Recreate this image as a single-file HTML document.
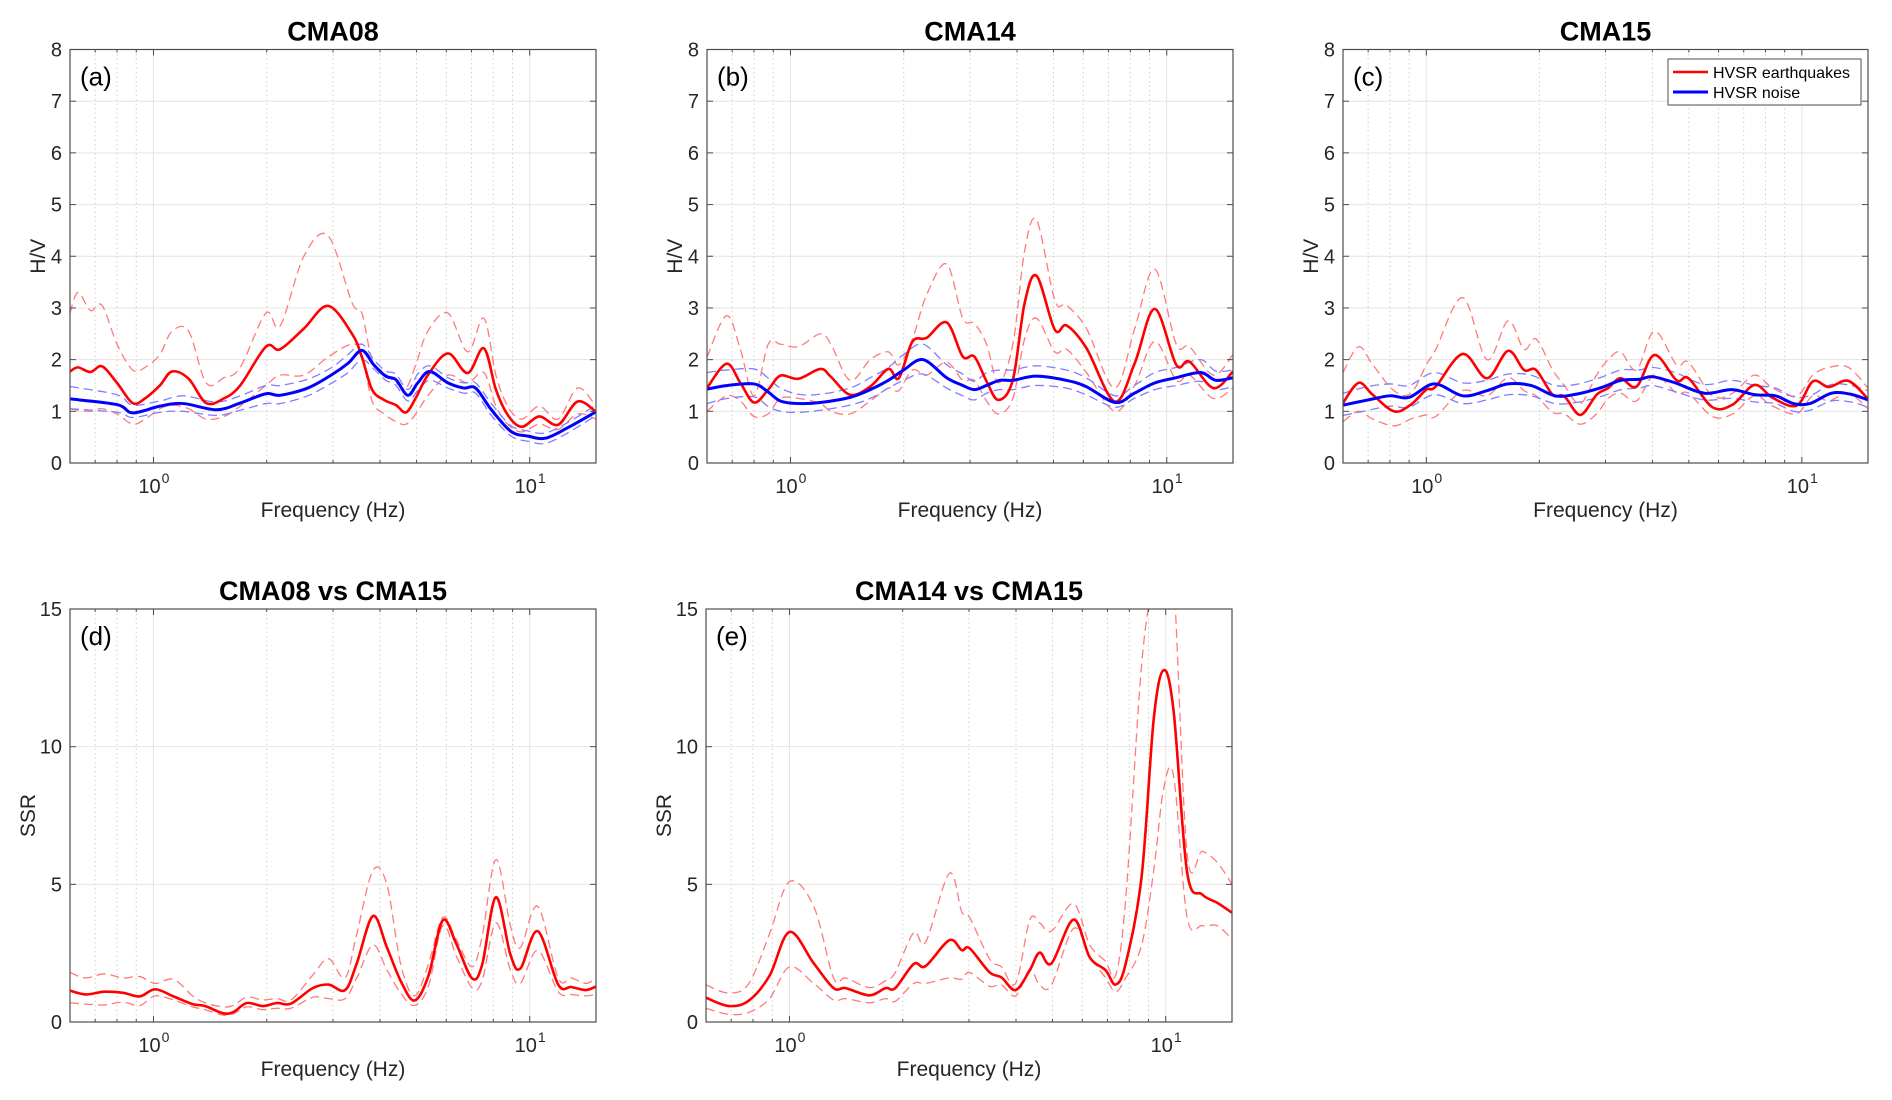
<!DOCTYPE html>
<html><head><meta charset="utf-8"><style>
html,body{margin:0;padding:0;background:#fff;}
svg{display:block;font-family:"Liberation Sans",Arial,sans-serif;}
</style></head><body>
<svg id="fig" width="1892" height="1100" viewBox="0 0 1892 1100" xmlns="http://www.w3.org/2000/svg"></svg>
<script>
// ---------- Panel (a) CMA08 ----------
const aFreqRed = [0.6,0.63,0.68,0.73,0.8,0.88,0.95,1.04,1.12,1.24,1.38,1.54,1.7,1.99,2.17,2.51,2.91,3.37,3.58,3.81,4.1,4.41,4.69,4.98,5.36,6.06,6.84,7.55,8.13,8.74,9.52,10.6,11.9,13.4,15];
const aRedMean = [1.77,1.85,1.76,1.87,1.55,1.16,1.25,1.5,1.77,1.63,1.16,1.25,1.5,2.25,2.2,2.6,3.04,2.5,2.05,1.42,1.22,1.12,0.98,1.26,1.7,2.12,1.74,2.22,1.42,0.93,0.7,0.9,0.74,1.19,0.99];
const aRedUp = [2.9,3.3,2.95,3.05,2.3,1.8,1.85,2.1,2.55,2.55,1.55,1.65,1.85,2.9,2.65,4.0,4.4,3.1,2.9,2.0,1.75,1.55,1.45,1.9,2.55,2.9,2.15,2.8,1.7,1.1,0.85,1.1,0.85,1.45,1.1];
const aRedLo = [1.05,1.02,1.0,1.05,0.95,0.75,0.85,1.05,1.12,1.05,0.85,0.9,1.1,1.5,1.7,1.7,2.05,2.3,2.1,1.2,0.95,0.8,0.75,0.95,1.3,1.7,1.55,1.75,1.1,0.75,0.6,0.75,0.65,0.95,0.85];
const aFreqBlue = [0.6,0.8,0.88,1.04,1.2,1.47,1.7,1.99,2.17,2.57,2.98,3.29,3.58,3.85,4.14,4.41,4.74,5.04,5.42,6.06,6.68,7.18,7.91,8.92,9.9,11.0,12.6,15];
const aBlueMean = [1.24,1.13,0.97,1.1,1.15,1.03,1.16,1.34,1.31,1.45,1.71,1.93,2.18,1.9,1.68,1.61,1.31,1.55,1.77,1.55,1.45,1.45,1.03,0.61,0.52,0.48,0.68,0.99];
const aBlueUp = [1.48,1.32,1.12,1.2,1.3,1.18,1.3,1.5,1.5,1.62,1.85,2.1,2.3,2.0,1.78,1.72,1.42,1.72,1.88,1.65,1.55,1.55,1.15,0.72,0.62,0.58,0.78,1.12];
const aBlueLo = [1.05,0.98,0.88,0.98,1.0,0.92,1.02,1.15,1.15,1.3,1.55,1.75,2.0,1.82,1.6,1.5,1.2,1.4,1.6,1.45,1.35,1.35,0.92,0.52,0.42,0.38,0.58,0.92];
// ---------- Panel (b) CMA14 ----------
const bFreqRed = [0.6,0.676,0.736,0.8,0.873,0.94,1.05,1.2,1.28,1.44,1.63,1.82,1.94,2.11,2.3,2.6,2.87,3.08,3.32,3.57,3.9,4.19,4.51,5.04,5.42,6.12,7.27,8.22,9.29,10.6,11.5,13.3,15];
const bRedMean = [1.45,1.92,1.55,1.17,1.42,1.69,1.63,1.82,1.67,1.32,1.48,1.82,1.64,2.35,2.42,2.72,2.06,2.06,1.58,1.22,1.61,3.09,3.62,2.58,2.66,2.22,1.19,1.93,2.98,1.9,1.96,1.45,1.77];
const bRedUp = [2.05,2.85,2.2,1.3,2.3,2.3,2.25,2.5,2.3,1.6,2.0,2.15,1.9,2.4,3.25,3.85,2.8,2.7,2.3,1.55,2.3,4.1,4.7,3.15,3.05,2.6,1.45,2.6,3.75,2.3,2.25,1.7,2.1];
const bRedLo = [1.0,1.3,1.2,0.9,0.95,1.25,1.25,1.15,1.0,0.95,1.2,1.45,1.4,1.8,1.7,1.95,1.6,1.6,1.2,0.95,1.25,2.4,2.8,2.15,2.2,1.75,1.0,1.5,2.35,1.6,1.7,1.25,1.45];
const bFreqBlue = [0.6,0.68,0.8,0.87,0.94,1.05,1.2,1.44,1.63,1.82,2.0,2.25,2.6,2.87,3.08,3.32,3.6,3.9,4.5,5.4,6.1,7.3,8.2,9.3,10.6,12.3,13.5,15];
const bBlueMean = [1.43,1.5,1.53,1.38,1.2,1.15,1.17,1.27,1.42,1.6,1.8,2.0,1.65,1.5,1.42,1.5,1.6,1.6,1.68,1.6,1.48,1.17,1.35,1.55,1.65,1.75,1.6,1.65];
const bBlueUp = [1.75,1.8,1.82,1.65,1.45,1.33,1.33,1.45,1.65,1.85,2.1,2.3,1.9,1.72,1.58,1.75,1.8,1.8,1.88,1.8,1.65,1.3,1.5,1.75,1.85,2.0,1.78,1.8];
const bBlueLo = [1.15,1.25,1.28,1.1,1.0,0.98,1.02,1.12,1.25,1.45,1.6,1.72,1.45,1.3,1.22,1.35,1.42,1.42,1.5,1.45,1.32,1.08,1.25,1.42,1.5,1.58,1.42,1.48];
// ---------- Panel (c) CMA15 ----------
const cFreqRed = [0.6,0.66,0.72,0.82,0.91,1.0,1.06,1.25,1.45,1.65,1.82,1.96,2.17,2.33,2.57,2.84,3.05,3.29,3.63,4.05,4.64,4.99,5.78,6.54,7.48,8.36,9.68,10.7,11.8,13.3,15];
const cRedMean = [1.16,1.55,1.32,1.0,1.13,1.42,1.48,2.11,1.64,2.17,1.8,1.8,1.32,1.29,0.93,1.32,1.45,1.64,1.48,2.09,1.6,1.64,1.08,1.13,1.51,1.26,1.11,1.58,1.47,1.59,1.24];
const cRedUp = [1.75,2.25,1.9,1.4,1.35,1.9,2.2,3.2,2.0,2.75,2.2,2.4,1.8,1.5,1.15,1.7,2.0,2.15,1.8,2.55,1.9,1.95,1.3,1.35,1.7,1.45,1.3,1.7,1.85,1.85,1.45];
const cRedLo = [0.8,1.0,0.85,0.72,0.85,0.93,0.9,1.4,1.3,1.65,1.4,1.3,0.98,0.95,0.75,0.95,1.25,1.35,1.2,1.7,1.35,1.35,0.9,0.95,1.3,1.1,0.95,1.3,1.2,1.35,1.05];
const cFreqBlue = [0.6,0.7,0.8,0.9,1.05,1.25,1.45,1.65,1.9,2.2,2.5,2.9,3.3,3.7,4.0,4.6,5.5,6.5,7.5,8.5,9.5,10.5,12,13.5,15];
const cBlueMean = [1.12,1.22,1.3,1.27,1.53,1.3,1.4,1.53,1.5,1.3,1.33,1.45,1.6,1.62,1.67,1.55,1.35,1.42,1.32,1.3,1.15,1.15,1.35,1.33,1.22];
const cBlueUp = [1.35,1.48,1.53,1.5,1.75,1.55,1.6,1.72,1.7,1.5,1.52,1.65,1.8,1.8,1.85,1.75,1.52,1.6,1.5,1.45,1.28,1.3,1.52,1.5,1.4];
const cBlueLo = [0.92,1.02,1.1,1.08,1.32,1.15,1.22,1.32,1.3,1.15,1.17,1.28,1.42,1.45,1.5,1.38,1.22,1.25,1.18,1.15,1.0,1.02,1.2,1.18,1.08];
// ---------- Panel (d) CMA08 vs CMA15 ----------
const dFreq = [0.6,0.66,0.74,0.83,0.92,1.01,1.13,1.27,1.37,1.53,1.63,1.77,1.95,2.13,2.32,2.65,2.92,3.23,3.47,3.83,4.17,4.54,4.94,5.38,5.87,6.38,7.02,7.47,8.13,8.88,9.44,10.5,11.9,12.9,14.1,15];
const dMean = [1.14,1.0,1.1,1.06,0.93,1.19,0.93,0.65,0.58,0.32,0.36,0.69,0.58,0.69,0.67,1.23,1.36,1.16,2.13,3.85,2.72,1.49,0.78,1.68,3.69,2.84,1.59,2.07,4.53,2.46,1.94,3.3,1.36,1.27,1.16,1.29];
const dUp = [1.8,1.6,1.75,1.6,1.65,1.4,1.55,0.95,0.7,0.55,0.6,0.9,0.8,0.85,0.8,1.7,2.3,1.6,3.2,5.5,5.0,2.1,0.95,2.1,3.8,3.0,2.0,3.1,5.9,3.5,2.7,4.2,1.6,1.6,1.4,1.6];
const dLo = [0.7,0.65,0.62,0.72,0.6,0.95,0.8,0.55,0.45,0.25,0.3,0.55,0.45,0.5,0.5,0.9,0.85,0.85,1.6,2.8,1.9,1.05,0.6,1.3,3.5,2.4,1.25,1.5,3.6,1.9,1.4,2.6,1.1,1.0,0.95,1.0];
// ---------- Panel (e) CMA14 vs CMA15 ----------
const eFreq = [0.6,0.69,0.78,0.885,1.0,1.16,1.31,1.41,1.63,1.8,1.91,2.14,2.3,2.66,2.87,3.01,3.4,3.66,3.99,4.35,4.62,4.97,5.69,6.28,6.92,7.36,7.83,8.63,9.29,9.88,10.5,11.4,12.5,13.7,15];
const eMean = [0.88,0.58,0.78,1.68,3.27,2.13,1.23,1.23,0.97,1.23,1.23,2.11,2.03,2.97,2.61,2.68,1.81,1.62,1.16,1.88,2.52,2.13,3.72,2.35,1.88,1.36,2.13,5.3,11.0,12.78,11.25,5.43,4.63,4.33,3.97];
const eUp = [1.35,1.05,1.4,3.2,5.1,4.2,1.6,1.6,1.25,1.5,1.8,3.25,2.9,5.4,4.0,3.8,2.3,2.0,1.4,3.7,3.6,3.3,4.3,2.8,2.2,1.7,4.5,13,16,17,16,6.1,6.2,5.8,5.0];
const eLo = [0.5,0.28,0.35,0.85,2.0,1.4,0.8,0.85,0.7,0.85,0.75,1.4,1.4,1.6,1.55,1.8,1.3,1.35,0.95,1.9,1.35,1.35,3.4,2.4,1.6,1.1,1.6,2.8,5.5,8.5,8.9,3.8,3.5,3.5,3.0];
// ---------- Axis tick labels ----------
const hvTicks = [0,1,2,3,4,5,6,7,8];
const ssrTicks = [0,5,10,15];
const minorFreqs = [0.7,0.8,0.9,2,3,4,5,6,7,8,9];
const majorFreqs = [1,10];
const majorExp = ["0","1"];

const NS = "http://www.w3.org/2000/svg";
const svg = document.getElementById("fig");
function mk(tag, attrs, parent){
  const e = document.createElementNS(NS, tag);
  for (const k in attrs) e.setAttribute(k, attrs[k]);
  (parent||svg).appendChild(e);
  return e;
}
function smoothPath(pts){
  let d = "M" + pts[0][0].toFixed(2) + "," + pts[0][1].toFixed(2);
  for (let i=0;i<pts.length-1;i++){
    const p0 = pts[Math.max(0,i-1)], p1 = pts[i], p2 = pts[i+1], p3 = pts[Math.min(pts.length-1,i+2)];
    const c1x = p1[0]+(p2[0]-p0[0])/6, c1y = p1[1]+(p2[1]-p0[1])/6;
    const c2x = p2[0]-(p3[0]-p1[0])/6, c2y = p2[1]-(p3[1]-p1[1])/6;
    d += " C"+c1x.toFixed(2)+","+c1y.toFixed(2)+" "+c2x.toFixed(2)+","+c2y.toFixed(2)+" "+p2[0].toFixed(2)+","+p2[1].toFixed(2);
  }
  return d;
}
let clipId = 0;
function panel(cfg){
  const {L,R,T,B,ymax,yticks,title,letter,ylab,ylabX} = cfg;
  const g = mk("g",{});
  
  
  const fmin = 0.6, fmax = 15;
  const xs = f => L + (Math.log10(f)-Math.log10(fmin))/(Math.log10(fmax)-Math.log10(fmin))*(R-L);
  const ys = v => B - v/ymax*(B-T);
  const grid = mk("g",{},g);
  
  
  yticks.forEach(v=>{ if(v>0 && v<ymax) mk("line",{x1:L,x2:R,y1:ys(v),y2:ys(v),stroke:"#e4e4e4","stroke-width":1},grid); });
  majorFreqs.forEach(f=>mk("line",{x1:xs(f),x2:xs(f),y1:T,y2:B,stroke:"#e4e4e4","stroke-width":1},grid));
  minorFreqs.forEach(f=>mk("line",{x1:xs(f),x2:xs(f),y1:T,y2:B,stroke:"#cfcfcf","stroke-width":1,"stroke-dasharray":"1.5,3"},grid));
  const cid = "clip"+(clipId++);
  const cp = mk("clipPath",{id:cid},g);
  mk("rect",{x:L,y:T,width:R-L,height:B-T},cp);
  const data = mk("g",{"clip-path":"url(#"+cid+")"},g);
  function series(freqs, vals, color, width, dash, name){
    const p = mk("path",{d:smoothPath(freqs.map((f,i)=>[xs(f),ys(vals[i])])),fill:"none",stroke:color,"stroke-width":width,"stroke-linejoin":"round"},data);
    if (dash) p.setAttribute("stroke-dasharray", dash);
    
    
  }
  (cfg.series||[]).forEach(s=>series(s[0],s[1],s[2],s[3],s[4],s[5]));
  const box = mk("rect",{x:L,y:T,width:R-L,height:B-T,fill:"none",stroke:"#4d4d4d","stroke-width":1.2},g);
  
  
  yticks.forEach(v=>{
    mk("line",{x1:L,x2:L+6,y1:ys(v),y2:ys(v),stroke:"#4d4d4d","stroke-width":1},g);
    mk("line",{x1:R-6,x2:R,y1:ys(v),y2:ys(v),stroke:"#4d4d4d","stroke-width":1},g);
    const t = mk("text",{x:L-8,y:ys(v)+7,"text-anchor":"end","font-size":20,fill:"#262626"},g);
    t.textContent = String(v);
    
    
  });
  minorFreqs.forEach(f=>{
    mk("line",{x1:xs(f),x2:xs(f),y1:B,y2:B-3,stroke:"#4d4d4d","stroke-width":1},g);
    mk("line",{x1:xs(f),x2:xs(f),y1:T,y2:T+3,stroke:"#4d4d4d","stroke-width":1},g);
  });
  majorFreqs.forEach((f,i)=>{
    mk("line",{x1:xs(f),x2:xs(f),y1:B,y2:B-6,stroke:"#4d4d4d","stroke-width":1},g);
    mk("line",{x1:xs(f),x2:xs(f),y1:T,y2:T+6,stroke:"#4d4d4d","stroke-width":1},g);
    const t = mk("text",{x:xs(f)-4,y:B+30,"text-anchor":"middle","font-size":20,fill:"#262626"},g);
    t.textContent = "10";
    
    
    const s = mk("text",{x:xs(f)+12,y:B+20,"text-anchor":"middle","font-size":14,fill:"#262626"},g);
    s.textContent = majorExp[i];
    
    
  });
  const tt = mk("text",{x:(L+R)/2,y:T-9,"text-anchor":"middle","font-size":27,"font-weight":"bold",fill:"#000"},g);
  tt.textContent = title;
  
  
  const xl = mk("text",{x:(L+R)/2,y:B+54,"text-anchor":"middle","font-size":21,fill:"#262626"},g);
  xl.textContent = "Frequency (Hz)";
  
  
  const yc = (T+B)/2;
  const yl = mk("text",{x:ylabX,y:yc,"text-anchor":"middle","font-size":21,fill:"#262626",transform:"rotate(-90 "+ylabX+" "+yc+")"},g);
  yl.textContent = ylab;
  
  
  const pl = mk("text",{x:L+10,y:T+36,"font-size":26,fill:"#000"},g);
  pl.textContent = "("+letter+")";
  
  
  return {xs,ys,g};
}
const RED="#ff0000", RED_D="#ff7a7a", BLUE="#0000ff", BLUE_D="#7f7fff", DASH="9,5";
function hvSeries(fr,rm,ru,rl,fb,bm,bu,bl){
  return [
    [fr,ru,RED_D,1.3,DASH,"red-upper-dashed"],[fr,rl,RED_D,1.3,DASH,"red-lower-dashed"],
    [fb,bu,BLUE_D,1.3,DASH,"blue-upper-dashed"],[fb,bl,BLUE_D,1.3,DASH,"blue-lower-dashed"],
    [fr,rm,RED,2.6,null,"hvsr-earthquakes-line"],[fb,bm,BLUE,3,null,"hvsr-noise-line"]
  ];
}
panel({L:70,R:596,T:49.5,B:463,ymax:8,yticks:hvTicks,title:"CMA08",letter:"a",ylab:"H/V",ylabX:45,
  series:hvSeries(aFreqRed,aRedMean,aRedUp,aRedLo,aFreqBlue,aBlueMean,aBlueUp,aBlueLo)});
panel({L:707,R:1233,T:49.5,B:463,ymax:8,yticks:hvTicks,title:"CMA14",letter:"b",ylab:"H/V",ylabX:682,
  series:hvSeries(bFreqRed,bRedMean,bRedUp,bRedLo,bFreqBlue,bBlueMean,bBlueUp,bBlueLo)});
panel({L:1343,R:1868,T:49.5,B:463,ymax:8,yticks:hvTicks,title:"CMA15",letter:"c",ylab:"H/V",ylabX:1318,
  series:hvSeries(cFreqRed,cRedMean,cRedUp,cRedLo,cFreqBlue,cBlueMean,cBlueUp,cBlueLo)});
const ssrS = (f,m,u,l)=>[[f,u,RED_D,1.3,DASH,"ssr-upper-dashed"],[f,l,RED_D,1.3,DASH,"ssr-lower-dashed"],[f,m,RED,2.6,null,"ssr-mean-line"]];
panel({L:70,R:596,T:609,B:1022,ymax:15,yticks:ssrTicks,title:"CMA08 vs CMA15",letter:"d",ylab:"SSR",ylabX:35,series:ssrS(dFreq,dMean,dUp,dLo)});
panel({L:706,R:1232,T:609,B:1022,ymax:15,yticks:ssrTicks,title:"CMA14 vs CMA15",letter:"e",ylab:"SSR",ylabX:671,series:ssrS(eFreq,eMean,eUp,eLo)});
const lg = mk("g",{});


mk("rect",{x:1668,y:59,width:193,height:46,fill:"#fff",stroke:"#4d4d4d","stroke-width":1},lg);
mk("line",{x1:1673,x2:1708,y1:72,y2:72,stroke:RED,"stroke-width":2.6},lg);
mk("line",{x1:1673,x2:1708,y1:92,y2:92,stroke:BLUE,"stroke-width":3},lg);
const l1 = mk("text",{x:1713,y:78,"font-size":16,fill:"#000"},lg);
l1.textContent = "HVSR earthquakes";


const l2 = mk("text",{x:1713,y:98,"font-size":16,fill:"#000"},lg);
l2.textContent = "HVSR noise";


</script>
</body></html>
